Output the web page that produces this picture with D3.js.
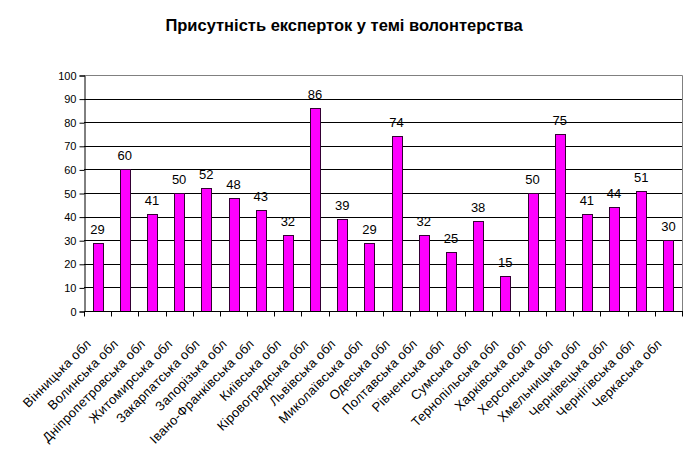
<!DOCTYPE html>
<html>
<head>
<meta charset="utf-8">
<script src="https://cdn.jsdelivr.net/npm/d3@7"></script>
<style>
  body { margin: 0; background: #fff; }
  svg text { font-family: "Liberation Sans", Arial, sans-serif; }
</style>
</head>
<body>
<div id="container"></div>
<script>
const title = 'Присутність експерток у темі волонтерства';
const regions = ['Вінницька обл', 'Волинська обл', 'Дніпропетровська обл', 'Житомирська обл',
  'Закарпатська обл', 'Запорізька обл', 'Івано-Франківська обл', 'Київська обл',
  'Кіровоградська обл', 'Львівська обл', 'Миколаївська обл', 'Одеська обл',
  'Полтавська обл', 'Рівненська обл', 'Сумська обл', 'Тернопільська обл',
  'Харківська обл', 'Херсонська обл', 'Хмельницька обл', 'Чернівецька обл',
  'Чернігівська обл', 'Черкаська обл'];
const values = [29, 60, 41, 50, 52, 48, 43, 32, 86, 39, 29, 74, 32, 25, 38, 15, 50, 75, 41, 44, 51, 30];
const yTicks = [0, 10, 20, 30, 40, 50, 60, 70, 80, 90, 100];

const w = 693, h = 454;
const plotLeft = 84, plotRight = 682, plotTop = 75, plotBottom = 311;

const svg = d3.select('#container').append('svg')
  .attr('width', w).attr('height', h);

svg.append('text')
  .attr('x', 344).attr('y', 31)
  .attr('text-anchor', 'middle')
  .style('font-size', '16.5px').style('font-weight', 'bold')
  .text(title);

const x = d3.scaleBand().domain(regions).range([plotLeft, plotRight]);
const y = d3.scaleLinear().domain([0, 100]).range([plotBottom, plotTop]);

// gridlines
svg.append('g').selectAll('line')
  .data(yTicks.filter(d => d > 0 && d < 100))
  .enter().append('line')
  .attr('x1', plotLeft).attr('x2', plotRight)
  .attr('y1', d => Math.round(y(d)) + 0.5).attr('y2', d => Math.round(y(d)) + 0.5)
  .attr('stroke', '#000');

// plot area border (top and right), grey
svg.append('path')
  .attr('d', 'M' + plotLeft + ',' + (plotTop + 0.5) + 'H' + (plotRight + 0.5) + 'V' + plotBottom)
  .attr('fill', 'none')
  .attr('stroke', '#808080');

// bars
const barW = 10;
svg.append('g').selectAll('rect')
  .data(values)
  .enter().append('rect')
  .attr('x', (d, i) => Math.round(x(regions[i]) + x.bandwidth() / 2 - barW / 2) + 0.5)
  .attr('y', d => Math.round(y(d)) + 0.5)
  .attr('width', barW)
  .attr('height', d => Math.round(y(0)) - Math.round(y(d)))
  .attr('fill', '#ff00ff')
  .attr('stroke', '#330033');

// value labels
svg.append('g').selectAll('text')
  .data(values)
  .enter().append('text')
  .attr('x', (d, i) => x(regions[i]) + x.bandwidth() / 2)
  .attr('y', d => y(d) - 9)
  .attr('text-anchor', 'middle')
  .style('font-size', '13px')
  .text(d => d);

// y axis
const yAxis = d3.axisLeft(y).tickValues(yTicks).tickSize(5).tickPadding(3);
const gy = svg.append('g')
  .attr('transform', 'translate(' + (plotLeft + 0.5) + ',0.5)')
  .call(yAxis);
gy.select('.domain').attr('stroke', '#000');
gy.selectAll('.tick line').attr('stroke', '#000');
gy.selectAll('.tick text').style('font-size', '11px').attr('fill', '#000');

// x axis with ticks at band edges
const gx = svg.append('g').attr('transform', 'translate(0,' + (Math.round(plotBottom) + 0.5) + ')');
gx.append('line').attr('x1', plotLeft).attr('x2', plotRight + 1).attr('stroke', '#000');
const edges = regions.map(r => x(r)).concat([plotRight]);
gx.selectAll('line.tk')
  .data(edges)
  .enter().append('line')
  .attr('class', 'tk')
  .attr('x1', d => Math.round(d) + 0.5).attr('x2', d => Math.round(d) + 0.5)
  .attr('y1', 0).attr('y2', 5)
  .attr('stroke', '#000');

gx.selectAll('text')
  .data(regions)
  .enter().append('text')
  .attr('transform', d => 'translate(' + (x(d) + x.bandwidth() / 2 - 9) + ',30) rotate(-45)')
  .attr('text-anchor', 'end')
  .attr('dy', '0.35em')
  .style('font-size', '13px')
  .style('letter-spacing', '0.3px')
  .text(d => d);
</script>
</body>
</html>
